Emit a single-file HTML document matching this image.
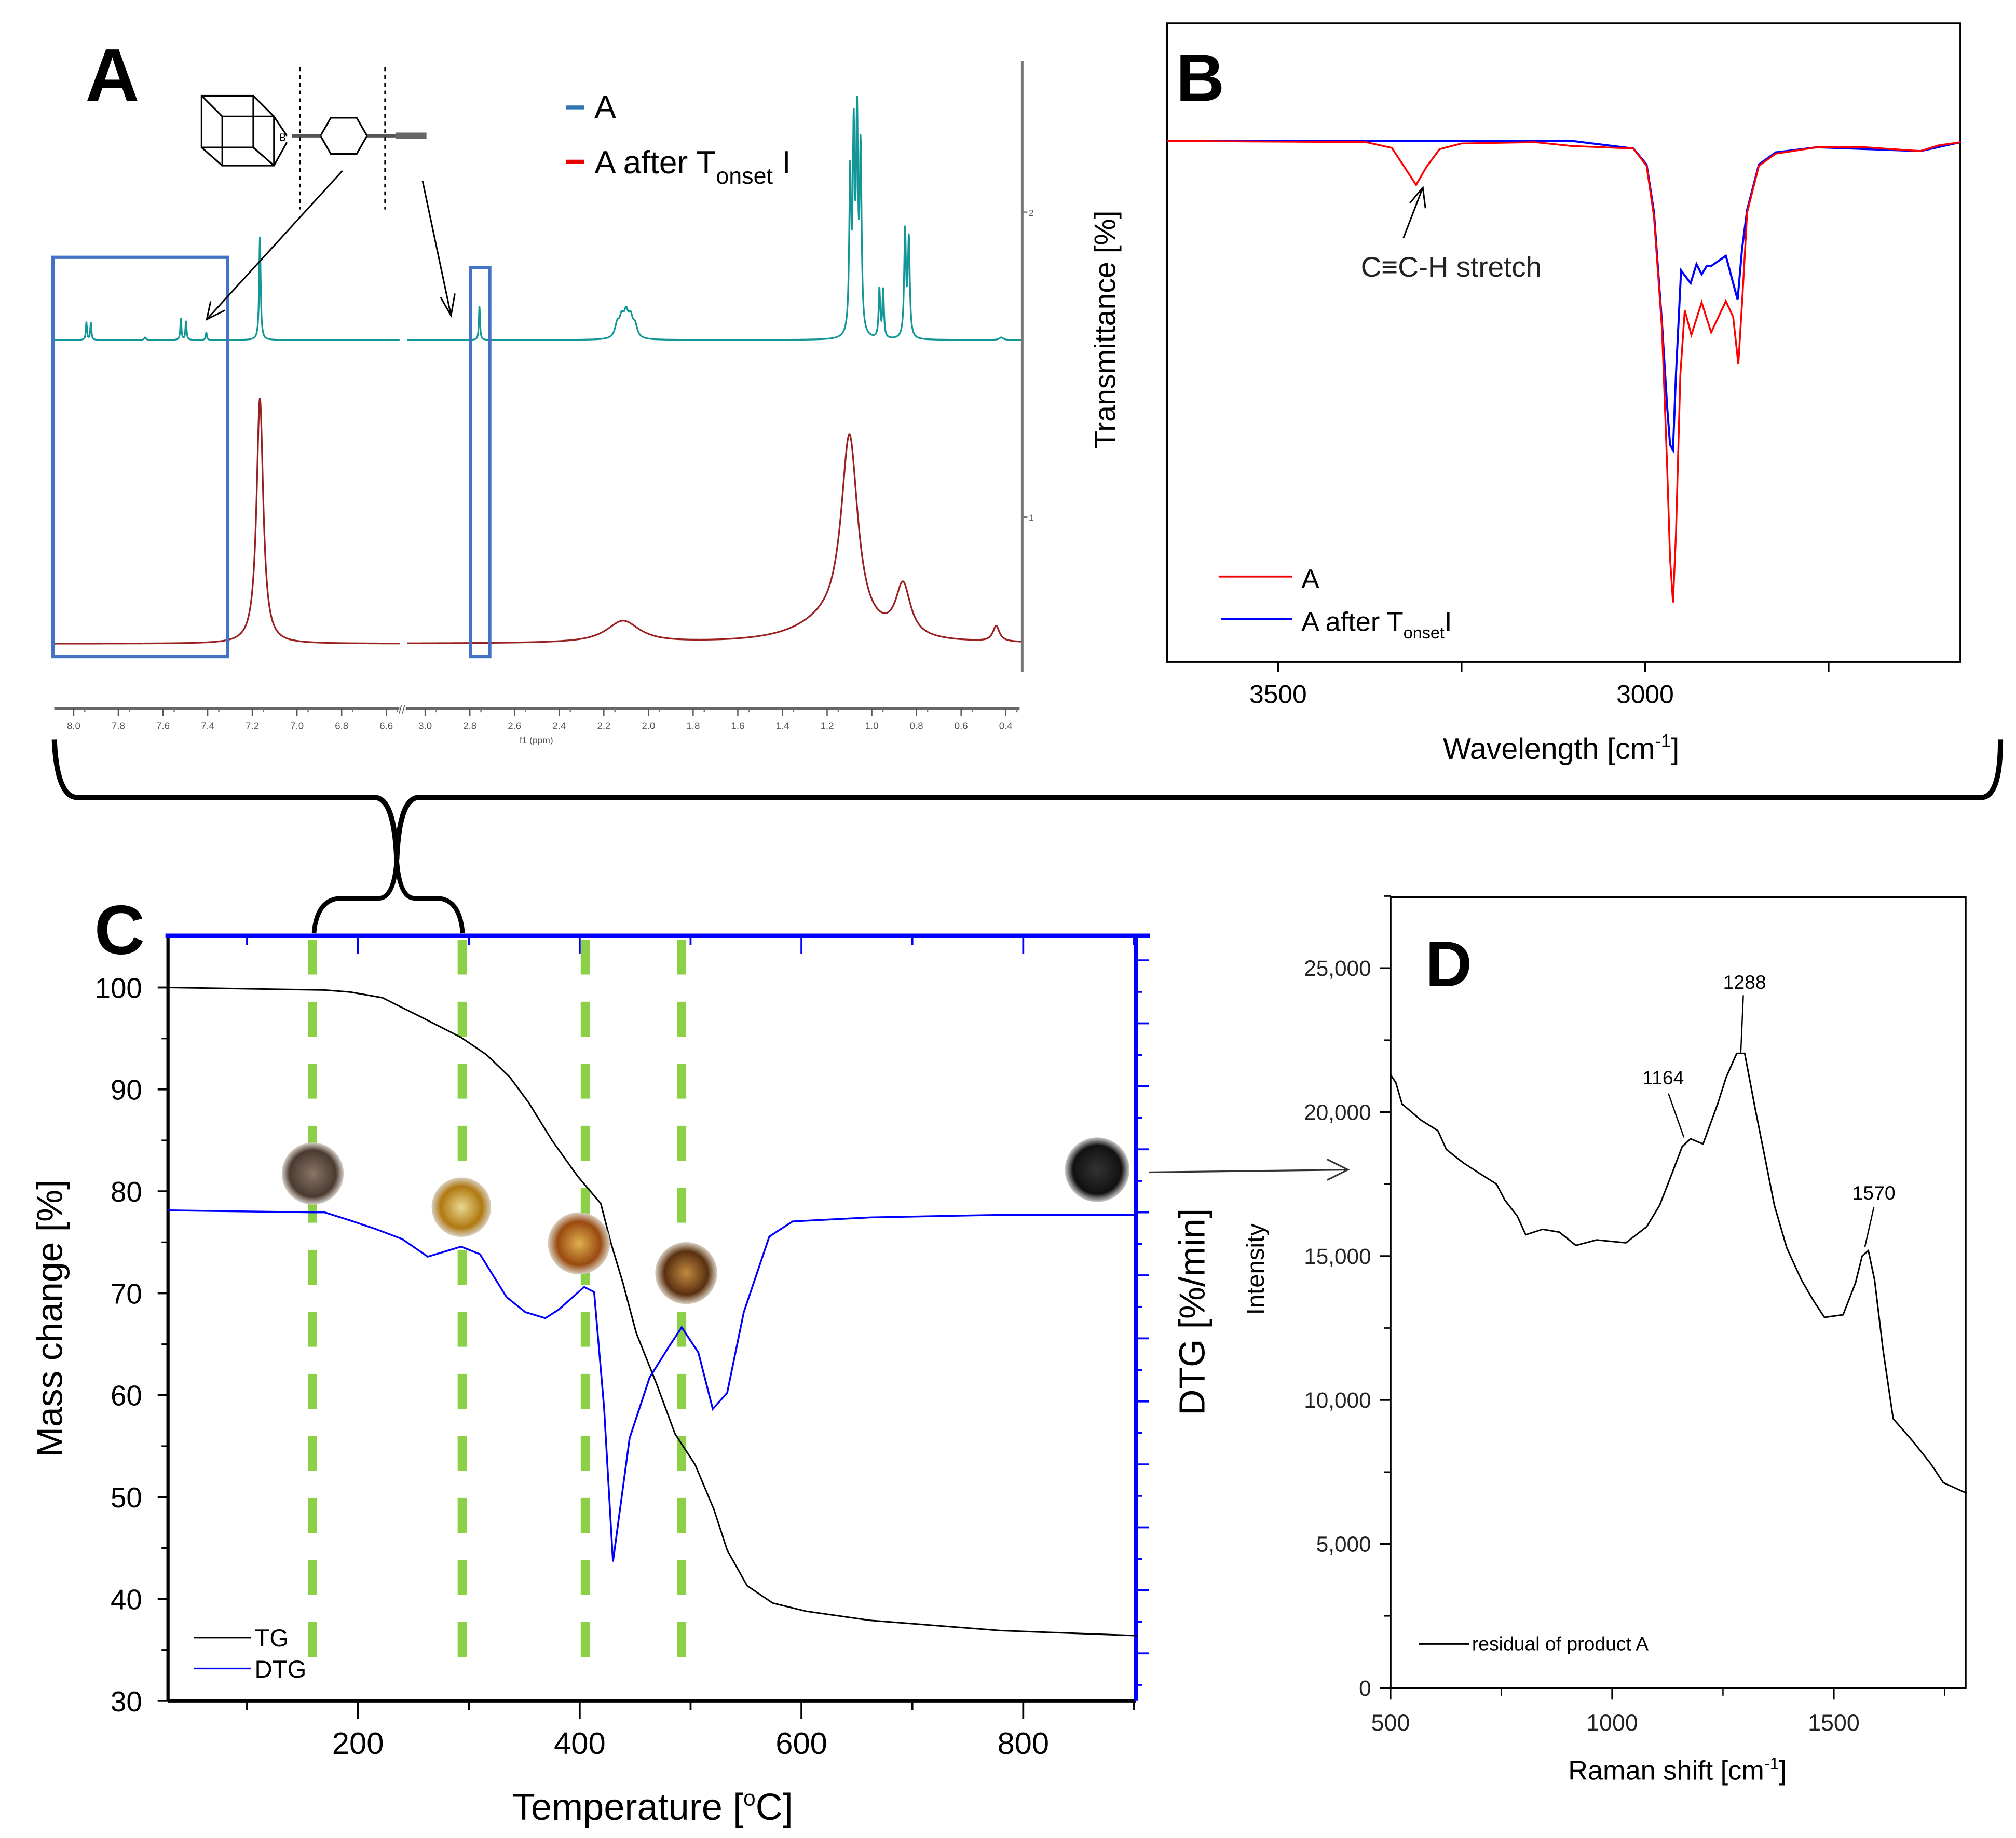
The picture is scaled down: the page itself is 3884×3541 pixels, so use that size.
<!DOCTYPE html>
<html><head><meta charset="utf-8"><style>
html,body{margin:0;padding:0;background:#fff;}
svg{display:block;font-family:"Liberation Sans",sans-serif;}
</style></head><body>
<svg id="fig" xmlns="http://www.w3.org/2000/svg" width="3884" height="3541" viewBox="0 0 1560 1422">
<rect x="0" y="0" width="1560" height="1422" fill="#fff"/>
<!-- Panel A static parts -->
<g id="panelA">
  <text x="66" y="78" font-size="58" font-weight="bold">A</text>
  <g stroke="#000" fill="none" stroke-width="1.3">
    <rect x="156" y="74" width="40" height="40"/>
    <rect x="172" y="90" width="40" height="38"/>
    <line x1="156" y1="74" x2="172" y2="90"/><line x1="196" y1="74" x2="212" y2="90"/>
    <line x1="156" y1="114" x2="172" y2="128"/><line x1="196" y1="114" x2="212" y2="128"/>
    <line x1="212" y1="90" x2="222" y2="105"/><line x1="212" y1="128" x2="222" y2="110"/>
    <polygon points="248,105 256,91 276,91 284,105 276,119 256,119"/>
    <line x1="226" y1="105" x2="248" y2="105" stroke-width="2.5" stroke="#555"/>
    <line x1="284" y1="105" x2="306" y2="105" stroke-width="2.5" stroke="#555"/>
    <line x1="306" y1="105" x2="330" y2="105" stroke-width="5" stroke="#666"/>
    <line x1="232" y1="52" x2="232" y2="162" stroke-dasharray="3,3"/>
    <line x1="298" y1="52" x2="298" y2="162" stroke-dasharray="3,3"/>
  </g>
  <text x="216" y="109" font-size="8">B</text>
  <g>
    <line x1="438" y1="83" x2="452" y2="83" stroke="#2e75b6" stroke-width="3"/>
    <text x="460" y="91" font-size="25">A</text>
    <line x1="438" y1="125" x2="452" y2="125" stroke="#e00" stroke-width="3"/>
    <text x="460" y="134" font-size="25">A after T<tspan font-size="18" dy="8">onset</tspan><tspan dy="-8"> I</tspan></text>
  </g>
  <g id="nmrAxis"></g>
  <text x="415" y="575" font-size="7" text-anchor="middle" fill="#555">f1 (ppm)</text>
  <g>
    <line x1="791" y1="47" x2="791" y2="520" stroke="#777" stroke-width="2"/>
    <line x1="791" y1="164" x2="795" y2="164" stroke="#777"/><text x="796" y="167" font-size="7" fill="#555">2</text>
    <line x1="791" y1="400" x2="795" y2="400" stroke="#777"/><text x="796" y="403" font-size="7" fill="#555">1</text>
  </g>
  <g id="nmrSpectra"></g>
  <rect x="41" y="199" width="135" height="309" fill="none" stroke="#4472c4" stroke-width="2.5"/>
  <rect x="364" y="207" width="15" height="301" fill="none" stroke="#4472c4" stroke-width="2.5"/>
  <g stroke="#000" stroke-width="1.2" fill="none">
    <line x1="265" y1="132" x2="160" y2="247"/><polyline points="163,233 160,247 174,240"/>
    <line x1="327" y1="140" x2="349" y2="244"/><polyline points="341,230 349,244 352,227"/>
  </g>
</g>
<!-- Panel B -->
<g id="panelB">
  <rect x="903" y="18" width="614" height="494" fill="none" stroke="#000" stroke-width="1.5"/>
  <text x="910" y="78" font-size="52" font-weight="bold">B</text>
  <g id="irAxis"></g>
  <text transform="translate(863,255) rotate(-90)" font-size="23" text-anchor="middle">Transmittance [%]</text>
  <text x="1208" y="587" font-size="23" text-anchor="middle">Wavelength [cm<tspan font-size="14" dy="-9">-1</tspan><tspan dy="9">]</tspan></text>
  <g id="irSpectra"></g>
  <g>
    <line x1="1086" y1="184" x2="1101" y2="145" stroke="#000" stroke-width="1.2"/>
    <polyline points="1091,157 1101,145 1103,161" fill="none" stroke="#000" stroke-width="1.2"/>
    <text x="1053" y="214" font-size="22" fill="#222">C≡C-H stretch</text>
  </g>
  <g>
    <line x1="943" y1="446" x2="1000" y2="446" stroke="#e00" stroke-width="1.5"/>
    <text x="1007" y="455" font-size="21">A</text>
    <line x1="945" y1="479" x2="1000" y2="479" stroke="#00f" stroke-width="1.5"/>
    <text x="1007" y="488" font-size="21">A after T<tspan font-size="13" dy="6">onset</tspan><tspan dy="-6">I</tspan></text>
  </g>
</g>
<!-- braces -->
<path d="M42,572 Q44,617 60,617 L290,617 Q305,617 307,665 Q309,617 324,617 L1533,617 Q1548,617 1548,572" fill="none" stroke="#000" stroke-width="4"/>
<path d="M243,722 Q245,697 262,695 L293,695 Q305,695 307,665 Q309,695 321,695 L340,695 Q356,697 358,722" fill="none" stroke="#000" stroke-width="3.5"/>
<!-- Panel C -->
<g id="panelC">
  <text x="73" y="738" font-size="54" font-weight="bold">C</text>
  <g id="tgaAxis"></g>
  <g id="tgaSeries"></g>
  <text transform="translate(48,1020) rotate(-90)" font-size="28" text-anchor="middle">Mass change [%]</text>
  <text transform="translate(932,1015) rotate(-90)" font-size="28" text-anchor="middle">DTG [%/min]</text>
  <text x="505" y="1408" font-size="29" text-anchor="middle">Temperature [<tspan font-size="17" dy="-11">o</tspan><tspan dy="11">C]</tspan></text>
  <g>
    <line x1="150" y1="1267" x2="194" y2="1267" stroke="#000" stroke-width="1.3"/>
    <text x="197" y="1274" font-size="19">TG</text>
    <line x1="150" y1="1291" x2="194" y2="1291" stroke="#00f" stroke-width="1.3"/>
    <text x="197" y="1298" font-size="19">DTG</text>
  </g>
  <defs>
    <radialGradient id="g1"><stop offset="0" stop-color="#8a7565"/><stop offset="0.75" stop-color="#4a3a30"/><stop offset="1" stop-color="#d8d0c8"/></radialGradient>
    <radialGradient id="g2"><stop offset="0" stop-color="#e8d890"/><stop offset="0.7" stop-color="#b07810"/><stop offset="1" stop-color="#d8cfc0"/></radialGradient>
    <radialGradient id="g3"><stop offset="0" stop-color="#e0b050"/><stop offset="0.7" stop-color="#9a4a10"/><stop offset="1" stop-color="#d8cfc0"/></radialGradient>
    <radialGradient id="g4"><stop offset="0" stop-color="#c08a40"/><stop offset="0.7" stop-color="#5a3010"/><stop offset="1" stop-color="#d8cfc0"/></radialGradient>
    <radialGradient id="g5"><stop offset="0" stop-color="#333"/><stop offset="0.75" stop-color="#111"/><stop offset="1" stop-color="#ccc"/></radialGradient>
  </defs>
  <circle cx="242" cy="908" r="24" fill="url(#g1)"/>
  <circle cx="357" cy="934" r="23" fill="url(#g2)"/>
  <circle cx="448" cy="962" r="24" fill="url(#g3)"/>
  <circle cx="531" cy="985" r="24" fill="url(#g4)"/>
  <circle cx="849" cy="905" r="25" fill="url(#g5)"/>
  <line x1="889" y1="907" x2="1043" y2="905" stroke="#333" stroke-width="1.3"/>
  <polyline points="1027,897 1043,905 1027,913" fill="none" stroke="#333" stroke-width="1.3"/>
</g>
<!-- Panel D -->
<g id="panelD">
  <rect x="1076" y="694" width="445" height="612" fill="none" stroke="#000" stroke-width="1.5"/>
  <text x="1103" y="763" font-size="50" font-weight="bold">D</text>
  <g id="ramanAxis"></g>
  <g id="ramanSeries"></g>
  <text transform="translate(978,982) rotate(-90)" font-size="19" text-anchor="middle">Intensity</text>
  <text x="1298" y="1377" font-size="21" text-anchor="middle">Raman shift [cm<tspan font-size="13" dy="-8">-1</tspan><tspan dy="8">]</tspan></text>
  <g font-size="15">
    <text x="1350" y="765" text-anchor="middle">1288</text><line x1="1349" y1="770" x2="1347" y2="815" stroke="#000"/>
    <text x="1287" y="839" text-anchor="middle">1164</text><line x1="1291" y1="846" x2="1303" y2="880" stroke="#000"/>
    <text x="1450" y="928" text-anchor="middle">1570</text><line x1="1450" y1="934" x2="1443" y2="965" stroke="#000"/>
  </g>
  <g>
    <line x1="1098" y1="1272" x2="1137" y2="1272" stroke="#000" stroke-width="1.3"/>
    <text x="1139" y="1277" font-size="15">residual of product A</text>
  </g>
</g>
</svg>
<script>
// ---- Panel A: NMR peaks (ppm, height, half-width ppm) ----
const nmrTealPpm = [7.943,7.923,7.68,7.52,7.497,7.406,7.166,2.757,2.14,2.12,2.10,2.08,2.06,1.097,1.081,1.066,1.050,0.966,0.949,0.851,0.834,0.42];
const nmrTealHeight = [14,14,2,17,15,6,80,27,10,14,17,14,9,120,150,160,140,38,38,82,76,2];
const nmrTealWidth = [0.003,0.003,0.005,0.003,0.003,0.003,0.004,0.003,0.012,0.012,0.012,0.012,0.012,0.005,0.005,0.005,0.005,0.004,0.004,0.005,0.005,0.01];
const nmrRedPpm = [7.166,2.114,1.20,1.10,0.86,0.443];
const nmrRedHeight = [190,17,14,150,40,12];
const nmrRedWidth = [0.018,0.09,0.18,0.045,0.04,0.018];
const nmrTicksLeft = [8.0,7.8,7.6,7.4,7.2,7.0,6.8,6.6];
const nmrTicksRight = [3.0,2.8,2.6,2.4,2.2,2.0,1.8,1.6,1.4,1.2,1.0,0.8,0.6,0.4];
// ---- Panel B: IR ----
const irRedWn = [3651,3380,3345,3325,3312,3298,3280,3250,3150,3100,3016,2998,2988,2977,2970,2966,2962,2958,2952,2946,2937,2923,2910,2890,2880,2873,2867,2861,2845,2822,2766,2700,2625,2600,2570];
const irRedT = [81.6,81.4,80.5,77,74.7,77.5,80.3,81.2,81.4,80.8,80.4,77.7,69.8,52.2,30.6,16.2,9.3,20,45,55.1,51.2,56.3,51.6,56.5,54,46.6,58,70.4,77.7,79.6,80.6,80.6,80.0,80.9,81.4];
const irBlueWn = [3651,3100,3016,2998,2988,2977,2970,2966,2962,2958,2951,2938,2930,2923,2916,2910,2890,2874,2868,2861,2845,2822,2766,2625,2570];
const irBlueT = [81.6,81.6,80.4,77.9,70.5,53,40,34,33.2,45,61.3,59.3,62.3,60.7,62,62,63.6,56.7,64.6,70.8,77.9,79.8,80.6,80.0,81.4];
const irTicks = [3500,3250,3000,2750];
const irTickLabels = ["3500","","3000",""];
// ---- Panel C: TGA ----
const tgTemp = [29,170,193,222,257,293,316,337,354,375,398,419,428,439,451,469,486,504,521,533,551,574,604,662,779,903];
const tgMass = [100,99.75,99.55,99,97.1,95.1,93.4,91.2,88.7,85,81.5,78.8,75,71,66.1,61.2,56.2,53.2,48.8,44.8,41.3,39.6,38.8,37.9,36.9,36.4];
const dtgTemp = [29,158,170,193,216,240,263,293,310,334,351,369,381,404,413,422,430,445,463,480,492,507,520,533,548,571,592,662,779,903];
const dtgValue = [0.04,0,0,-0.16,-0.33,-0.53,-0.88,-0.68,-0.83,-1.68,-1.98,-2.1,-1.93,-1.48,-1.58,-3.88,-6.93,-4.48,-3.28,-2.68,-2.28,-2.78,-3.9,-3.58,-1.98,-0.48,-0.18,-0.1,-0.05,-0.05];
const massTicks = [30,40,50,60,70,80,90,100];
const tempTicks = [200,400,600,800];
const stageTemps = [159,294,405,492];
// ---- Panel D: Raman ----
const ramanShift = [500,512,526,569,607,626,664,701,739,758,786,805,843,881,918,965,1031,1078,1107,1135,1158,1177,1205,1238,1257,1281,1299,1323,1347,1366,1394,1427,1455,1479,1521,1549,1564,1578,1592,1611,1634,1681,1719,1747,1800];
const ramanIntensity = [21300,21020,20280,19720,19350,18700,18240,17870,17500,16940,16390,15740,15930,15830,15370,15560,15460,16020,16760,17870,18800,19070,18890,20280,21200,22040,22040,20090,18240,16760,15280,14170,13430,12870,12960,14070,15000,15190,14170,11760,9350,8520,7780,7130,6760];
const ramanYTicks = [0,5000,10000,15000,20000,25000];
const ramanXTicks = [500,1000,1500];

const NS = "http://www.w3.org/2000/svg";
function mk(tag, attrs, parent){ const e=document.createElementNS(NS,tag); for(const k in attrs) e.setAttribute(k,attrs[k]); parent.appendChild(e); return e; }
function fmt(n){ return n.toString().replace(/\B(?=(\d{3})+(?!\d))/g, ","); }

// NMR axes
const PPX = 172.8;
function nmrX(p){ return p >= 5 ? 57 + (8.0 - p) * PPX : 329 + (3.0 - p) * PPX; }
const nmrAxis = document.getElementById('nmrAxis');
let axl = mk('line',{x1:42,y1:548,x2:309,y2:548,stroke:'#666','stroke-width':2},nmrAxis);


let axr = mk('line',{x1:314,y1:548,x2:789,y2:548,stroke:'#666','stroke-width':2},nmrAxis);


mk('text',{x:311,y:552,'font-size':9,'text-anchor':'middle',fill:'#555'},nmrAxis).textContent='//';
[nmrTicksLeft, nmrTicksRight].forEach(arr=>{
  arr.forEach(p=>{
    const x=nmrX(p);
    mk('line',{x1:x,y1:548,x2:x,y2:554,stroke:'#555'},nmrAxis);
    mk('line',{x1:x+8.6,y1:548,x2:x+8.6,y2:551,stroke:'#777'},nmrAxis);
    const t=mk('text',{x:x,y:564,'font-size':7.5,'text-anchor':'middle',fill:'#555'},nmrAxis);
    t.textContent=p.toFixed(1);
    
    
  });
});
function nmrPath(ppms, hs, ws, base, p0, p1){
  let d='';
  for(let p=p0; p>=p1; p-=0.0015){
    let v=0;
    for(let i=0;i<ppms.length;i++){ const z=(p-ppms[i])/ws[i]; v+=hs[i]/(1+z*z); }
    d += (d?'L':'M') + nmrX(p).toFixed(2) + ',' + (base - v).toFixed(2);
  }
  return d;
}
const nmrG = document.getElementById('nmrSpectra');
[[8.087,6.54],[3.08,0.33]].forEach((seg,i)=>{
  const a = mk('path',{d:nmrPath(nmrTealPpm,nmrTealHeight,nmrTealWidth,263,seg[0],seg[1]),fill:'none',stroke:'#139696','stroke-width':1.3},nmrG);
  
  
  const b = mk('path',{d:nmrPath(nmrRedPpm,nmrRedHeight,nmrRedWidth,498,seg[0],seg[1]),fill:'none',stroke:'#9a2020','stroke-width':1.3},nmrG);
  
  
});

// IR
function irX(w){ return 989 + (3500 - w) * 0.568; }
function irY(t){ return 512 - t * 4.94; }
const irAxis = document.getElementById('irAxis');
irTicks.forEach((w,i)=>{
  const x=irX(w);
  mk('line',{x1:x,y1:512,x2:x,y2:520,stroke:'#000','stroke-width':1.3},irAxis);
  if(irTickLabels[i]){
    const t=mk('text',{x:x,y:544,'font-size':20,'text-anchor':'middle'},irAxis);
    t.textContent=irTickLabels[i];
    
    
  }
});
const irG = document.getElementById('irSpectra');
function linePath(xs, ys, fx, fy){ return xs.map((v,i)=>(i?'L':'M')+fx(v).toFixed(2)+','+fy(ys[i]).toFixed(2)).join(''); }
let irb = mk('path',{d:linePath(irBlueWn,irBlueT,irX,irY),fill:'none',stroke:'#00f','stroke-width':1.6},irG);


let irr = mk('path',{d:linePath(irRedWn,irRedT,irX,irY),fill:'none',stroke:'#f00','stroke-width':1.4},irG);



// TGA
function tX(T){ return 130 + (T - 28.7) * 0.858; }
function mY(m){ return 764 + (100 - m) * 7.886; }
function dY(v){ return 938 - 39 * v; }
const tgaAxis = document.getElementById('tgaAxis');
// green stage lines
stageTemps.forEach(T=>{
  const g = mk('line',{x1:tX(T),y1:727,x2:tX(T),y2:1295,stroke:'#8bd046','stroke-width':7,'stroke-dasharray':'27,21'},tgaAxis);
  
  
});
mk('line',{x1:130,y1:1316,x2:879,y2:1316,stroke:'#000','stroke-width':2.5},tgaAxis);
mk('line',{x1:130,y1:723,x2:130,y2:1316,stroke:'#000','stroke-width':2.5},tgaAxis);
mk('line',{x1:128,y1:724,x2:890,y2:724,stroke:'#00f','stroke-width':3.5},tgaAxis);
mk('line',{x1:879,y1:724,x2:879,y2:1316,stroke:'#00f','stroke-width':3},tgaAxis);
for(let T=100; T<=900; T+=100){
  const x=tX(T), maj = T%200===0;
  mk('line',{x1:x,y1:1316,x2:x,y2:1316+(maj?14:7),stroke:'#000','stroke-width':1.5},tgaAxis);
  mk('line',{x1:x,y1:724,x2:x,y2:724+(maj?14:7),stroke:'#00f','stroke-width':1.5},tgaAxis);
}
tempTicks.forEach(T=>{
  const t=mk('text',{x:tX(T),y:1357,'font-size':24,'text-anchor':'middle'},tgaAxis);
  t.textContent=T;
  
  
});
massTicks.forEach(m=>{
  const y=mY(m);
  mk('line',{x1:130,y1:y,x2:122,y2:y,stroke:'#000','stroke-width':1.5},tgaAxis);
  if(m<100) mk('line',{x1:130,y1:y-39.4,x2:125,y2:y-39.4,stroke:'#000','stroke-width':1.3},tgaAxis);
  const t=mk('text',{x:110,y:y+8,'font-size':22,'text-anchor':'end'},tgaAxis);
  t.textContent=m;
  
  
});
for(let v=5; v>=-9.5; v-=0.625){
  const y=dY(v), maj=Math.abs(Math.round(v/1.25)*1.25-v)<0.01;
  if(y>726 && y<1316) mk('line',{x1:879,y1:y,x2:879+(maj?10:5),y2:y,stroke:'#00f','stroke-width':1.5},tgaAxis);
}
const tgaG = document.getElementById('tgaSeries');
let tgp = mk('path',{d:linePath(tgTemp,tgMass,tX,mY),fill:'none',stroke:'#000','stroke-width':1.2},tgaG);


let dtp = mk('path',{d:linePath(dtgTemp,dtgValue,tX,dY),fill:'none',stroke:'#00f','stroke-width':1.4},tgaG);



// Raman
function rX(s){ return 1076 + (s - 500) * 0.343; }
function rY(c){ return 1306 - c * 0.02228; }
const rAxis = document.getElementById('ramanAxis');
ramanYTicks.forEach(c=>{
  const y=rY(c);
  mk('line',{x1:1076,y1:y,x2:1068,y2:y,stroke:'#000','stroke-width':1.3},rAxis);
  mk('line',{x1:1076,y1:y-55.7,x2:1071,y2:y-55.7,stroke:'#000','stroke-width':1.1},rAxis);
  const t=mk('text',{x:1061,y:y+6,'font-size':17,'text-anchor':'end',fill:'#222'},rAxis);
  t.textContent=fmt(c);
  
  
});
for(let s=750; s<=1750; s+=500){ mk('line',{x1:rX(s),y1:1306,x2:rX(s),y2:1312,stroke:'#000'},rAxis); }
ramanXTicks.forEach(s=>{
  mk('line',{x1:rX(s),y1:1306,x2:rX(s),y2:1315,stroke:'#000','stroke-width':1.3},rAxis);
  const t=mk('text',{x:rX(s),y:1339,'font-size':18,'text-anchor':'middle',fill:'#222'},rAxis);
  t.textContent=s;
  
  
});
const rG = document.getElementById('ramanSeries');
let rp = mk('path',{d:linePath(ramanShift,ramanIntensity,rX,rY),fill:'none',stroke:'#000','stroke-width':1.2},rG);


</script>
</body></html>
